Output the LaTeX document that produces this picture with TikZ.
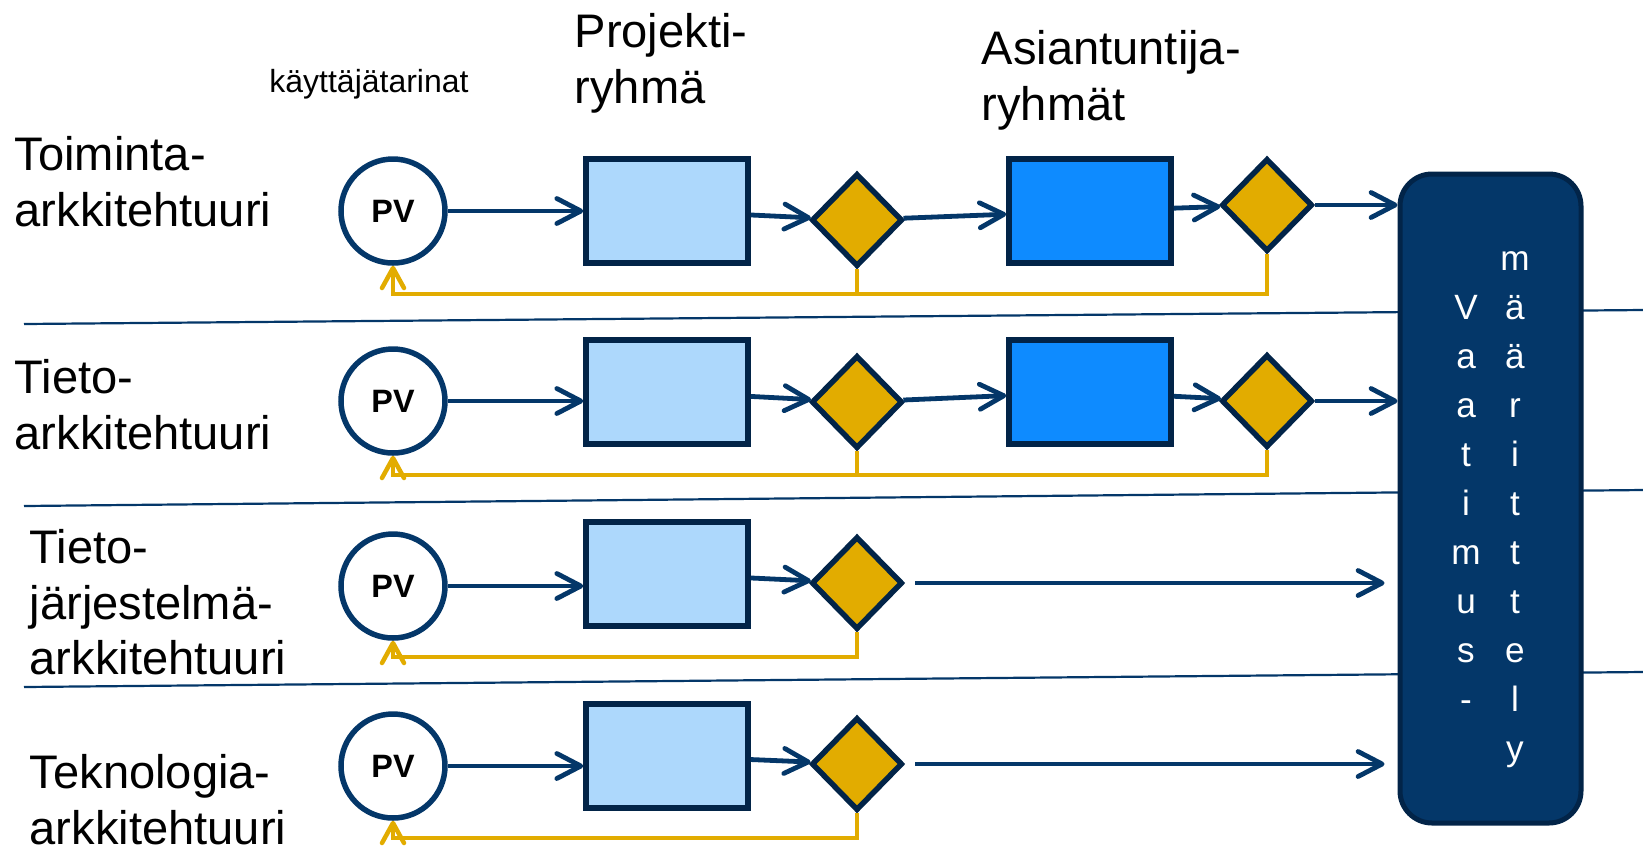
\documentclass[tikz,border=0pt]{standalone}
\usepackage{fontspec}
\setmainfont{Liberation Sans}
\usepackage{xcolor}
\usepackage{tikz}
\usetikzlibrary{shapes.geometric,arrows.meta}

\definecolor{navy}{RGB}{4,55,105}
\definecolor{boxline}{RGB}{2,36,72}
\definecolor{paleblue}{RGB}{173,216,252}
\definecolor{brightblue}{RGB}{14,139,255}
\definecolor{gold}{RGB}{226,172,0}

\begin{document}
\begin{tikzpicture}[x=0.1mm,y=-0.1mm,
  lab/.style={anchor=north west,inner sep=0pt,align=left,font=\fontsize{13.4}{15.8}\selectfont},
  pv/.style={circle,draw=navy,line width=0.55mm,fill=white,minimum size=10.4mm,inner sep=0pt,font=\fontsize{9.2}{10}\selectfont\bfseries},
  proj/.style={rectangle,draw=boxline,line width=0.55mm,fill=paleblue,minimum width=16.2mm,minimum height=10.4mm},
  expert/.style={proj,fill=brightblue},
  gate/.style={diamond,draw=boxline,line width=0.55mm,fill=gold,minimum width=9.1mm,minimum height=9.3mm,inner sep=0pt},
  flow/.style={draw=navy,line width=0.48mm,-{Straight Barb[length=2.4mm,width=2.5mm,round]}},
  back/.style={draw=gold,line width=0.45mm,-{Straight Barb[length=2mm,width=2.2mm,round]}},
  sep/.style={draw=navy,line width=0.22mm}]
\useasboundingbox (0,0) rectangle (1643,850);

% headings
\node[lab] (toim) at (14,136) {Toiminta-\\arkkitehtuuri};
\node[lab] (tieto) at (14,359) {Tieto-\\arkkitehtuuri};
\node[lab] (tjarj) at (29,529) {Tieto-\\järjestelmä-\\arkkitehtuuri};
\node[lab] (tekno) at (29,754) {Teknologia-\\arkkitehtuuri};
\node[lab] (ryhma) at (574,13) {Projekti-\\ryhmä};
\node[lab] (asian) at (981,30) {Asiantuntija-\\ryhmät};
\node[anchor=base,inner sep=0pt,font=\fontsize{9.1}{10}\selectfont] (kayt) at (369,92) {käyttäjätarinat};

% row separators
\draw[sep] (24,324) -- (1643,310);
\draw[sep] (24,506) -- (1643,490);
\draw[sep] (24,687) -- (1643,672);

% requirement box
\node[draw=boxline,line width=0.5mm,fill=navy,rounded corners=3.2mm,
  minimum width=18.1mm,minimum height=64.9mm] (vm) at (1490.5,498.5) {};
\node[text=white,font=\fontsize{10}{13.95}\selectfont] (vmtxt) at (1490.5,506)
  {\begin{tabular}{@{}c@{\hspace{5.6pt}}c@{}}
   & m\\ V & ä\\ a & ä\\ a & r\\ t & i\\ i & t\\ m & t\\ u & t\\ s & e\\ - & l\\ & y
  \end{tabular}};

% row 1
\node[pv] (pv1) at (393,211) {PV};
\node[proj] (pr1) at (667,211) {};
\node[gate] (pd1) at (857,220) {};
\node[expert] (ex1) at (1090,211) {};
\node[gate] (pa1) at (1267,205) {};
\coordinate (fb1) at (393,294);
\draw[flow] (pv1) -- (pv1 -| pr1.west);
\draw[flow] (pr1) -- (pd1);
\draw[flow] (pd1) -- (ex1);
\draw[flow] (ex1) -- (pa1);
\draw[flow] (pa1) -- (pa1 -| vm.west);
\draw[back] (pa1.south) |- (fb1) -- (pv1.south);
\draw[back,-] (pd1.south) -- (pd1.south |- fb1);

% row 2
\node[pv] (pv2) at (393,401) {PV};
\node[proj] (pr2) at (667,392) {};
\node[gate] (pd2) at (857,402) {};
\node[expert] (ex2) at (1090,392) {};
\node[gate] (pa2) at (1267,401) {};
\coordinate (fb2) at (393,475);
\draw[flow] (pv2) -- (pv2 -| pr2.west);
\draw[flow] (pr2) -- (pd2);
\draw[flow] (pd2) -- (ex2);
\draw[flow] (ex2) -- (pa2);
\draw[flow] (pa2) -- (pa2 -| vm.west);
\draw[back] (pa2.south) |- (fb2) -- (pv2.south);
\draw[back,-] (pd2.south) -- (pd2.south |- fb2);

% row 3
\node[pv] (pv3) at (393,586) {PV};
\node[proj] (pr3) at (667,574) {};
\node[gate] (pd3) at (857,583) {};
\coordinate (fb3) at (393,657);
\draw[flow] (pv3) -- (pv3 -| pr3.west);
\draw[flow] (pr3) -- (pd3);
\draw[flow,shorten <=1mm,shorten >=1.3mm] (pd3) -- (pd3 -| vm.west);
\draw[back] (pd3.south) |- (fb3) -- (pv3.south);

% row 4
\node[pv] (pv4) at (393,766) {PV};
\node[proj] (pr4) at (667,756) {};
\node[gate] (pd4) at (857,764) {};
\coordinate (fb4) at (393,838);
\draw[flow] (pv4) -- (pv4 -| pr4.west);
\draw[flow] (pr4) -- (pd4);
\draw[flow,shorten <=1mm,shorten >=1.3mm] (pd4) -- (pd4 -| vm.west);
\draw[back] (pd4.south) |- (fb4) -- (pv4.south);
\end{tikzpicture}
\end{document}
